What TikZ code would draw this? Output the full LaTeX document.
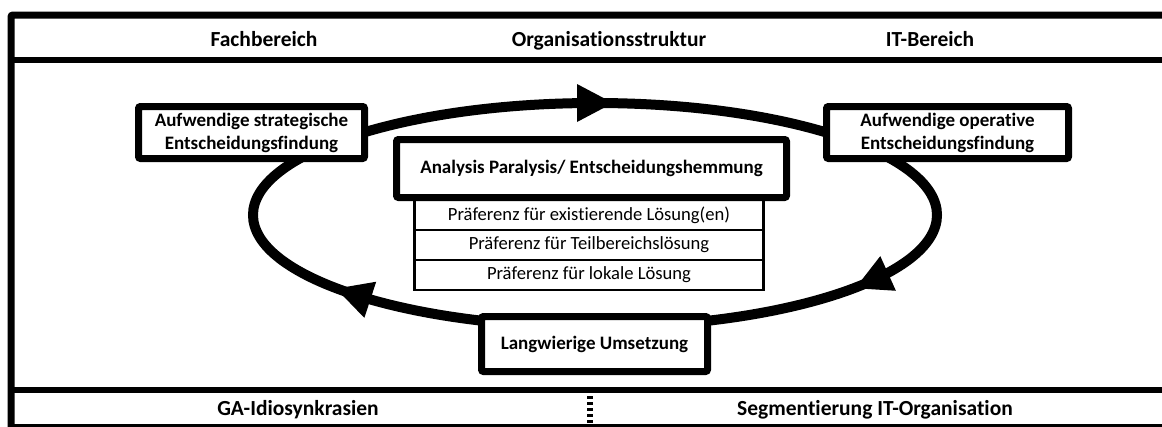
\documentclass[tikz,border=0pt]{standalone}
\usepackage{fontspec}
\setmainfont{Carlito}[Ligatures=NoCommon]
\begin{document}
\begin{tikzpicture}[x=1pt,y=-1pt,
  frameline/.style={line width=7pt},
  sepline/.style={line width=6pt},
  box/.style={draw, line width=7pt, fill=white, rounded corners=2pt,
    align=center, inner sep=0pt,
    font=\bfseries\fontsize{19}{23}\selectfont},
  row/.style={draw, line width=2.5pt, fill=white, minimum width=349pt,
    minimum height=30pt, inner sep=0pt, font=\fontsize{18.6}{21}\selectfont},
  head/.style={anchor=base, inner sep=0pt,
    font=\bfseries\fontsize{21.5}{24}\selectfont},
  loopline/.style={line width=10pt},
  tipfill/.style={fill=black}
]
\useasboundingbox (0,0) rectangle (1162,426);

% outer frame and band separators
\draw[frameline, rounded corners=2pt] (1175,15) -- (11,15) -- (11,432);
\draw[sepline] (11,60) -- (1175,60);
\draw[sepline] (11,390) -- (1175,390);
\draw[line width=3pt] (11,425) -- (1175,425);
\draw[line width=6pt, dash pattern=on 3pt off 3pt] (590,390) -- (590,430);

% header and footer labels (placed on their baselines)
\node[head] (fach) at (264,46) {Fachbereich};
\node[head] (org) at (609,46) {Organisationsstruktur};
\node[head] (itb) at (930,46) {IT-Bereich};
\node[head] (ga) at (298,415) {GA-Idiosynkrasien};
\node[head] (seg) at (875,415) {Segmentierung IT-Organisation};

% the cycle
\coordinate (loopc) at (595,215);
\draw[loopline] (loopc) ellipse [x radius=342pt, y radius=112pt];
\foreach \t in {270, 36, 135} {
  \pgfmathsetmacro\px{595+342*cos(\t)}
  \pgfmathsetmacro\py{215+112*sin(\t)}
  \pgfmathsetmacro\tx{-3.42*sin(\t)}
  \pgfmathsetmacro\ty{1.12*cos(\t)}
  \pgfmathsetmacro\tl{sqrt(\tx*\tx+\ty*\ty)}
  \pgfmathsetmacro\ux{\tx/\tl}
  \pgfmathsetmacro\uy{\ty/\tl}
  \fill[tipfill] (\px+18*\ux, \py+18*\uy)
    -- (\px-18*\ux-19*\uy, \py-18*\uy+19*\ux)
    -- (\px-18*\ux+19*\uy, \py-18*\uy-19*\ux) -- cycle;
}

% stages of the cycle
\node[box, minimum width=226pt, minimum height=52pt] (strat) at (251.5,132.5)
  {Aufwendige strategische\\Entscheidungsfindung};
\node[box, minimum width=242pt, minimum height=52pt] (oper) at (947.5,132.5)
  {Aufwendige operative\\Entscheidungsfindung};
\node[box, minimum width=226pt, minimum height=55pt] (umsetz) at (594.5,344)
  {Langwierige Umsetzung};

% central block with its preferences
\node[row] (p1) at (589,215) {Präferenz für existierende Lösung(en)};
\node[row] (p2) at (589,245) {Präferenz für Teilbereichslösung};
\node[row] (p3) at (589,275) {Präferenz für lokale Lösung};
\node[box, minimum width=390pt, minimum height=58pt] (ap) at (591.5,168.5)
  {Analysis Paralysis/ Entscheidungshemmung};
\end{tikzpicture}
\end{document}
